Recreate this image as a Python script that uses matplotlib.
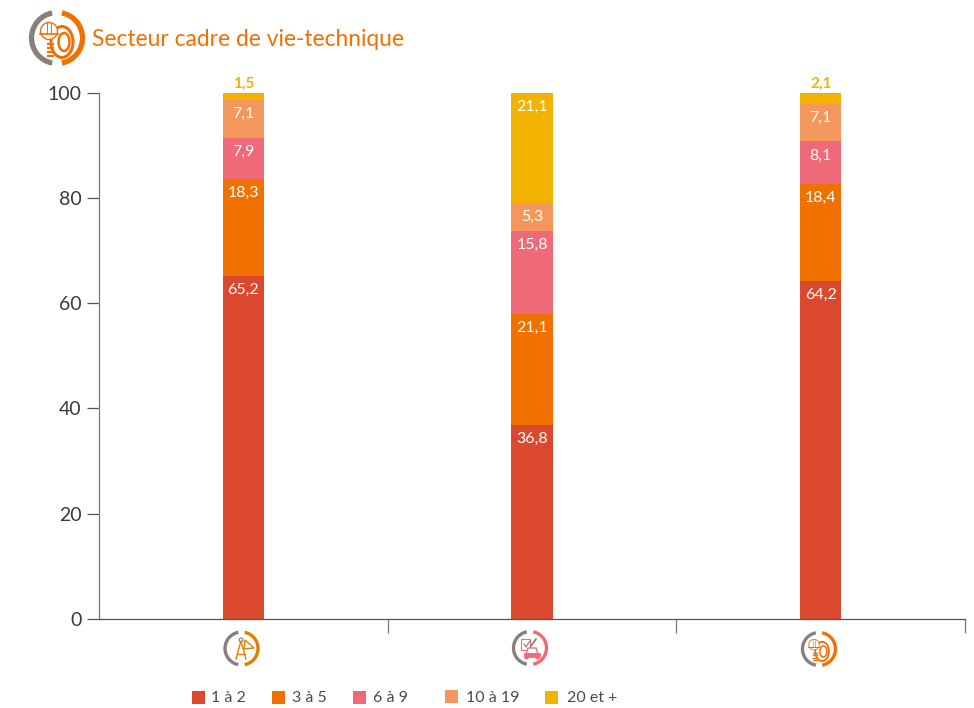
import matplotlib
matplotlib.use('Agg')
import matplotlib.pyplot as plt
from matplotlib.patches import Arc, Circle, Ellipse, Rectangle, Polygon

plt.rcParams['font.family'] = ['Lato', 'DejaVu Sans']

categories = ['architecture', 'vie-technique auto', 'vie-technique']
series_names = ['1 à 2', '3 à 5', '6 à 9', '10 à 19', '20 et +']
colors = ['#DA492D', '#F07000', '#EE6A78', '#F4975C', '#F2B200']
values = [
    [65.2, 36.8, 64.2],
    [18.3, 21.1, 18.4],
    [7.9, 15.8, 8.1],
    [7.1, 5.3, 7.1],
    [1.5, 21.1, 2.1],
]
yticks = [0, 20, 40, 60, 80, 100]

GREY = '#8A7F7A'
W, H = 974, 708

fig = plt.figure(figsize=(W / 100, H / 100), dpi=100)
ax = fig.add_axes([99 / W, 1 - 619 / H, 866 / W, 526.5 / H])

# overlay in pixel coordinates for title, icons and legend
ov = fig.add_axes([0, 0, 1, 1], zorder=5)
ov.set_xlim(0, W)
ov.set_ylim(H, 0)
ov.axis('off')
ov.patch.set_alpha(0)

bottoms = [0, 0, 0]
for i in range(len(values)):
    ax.bar(range(3), values[i], 0.143, bottom=bottoms, color=colors[i], linewidth=0)
    for j in range(3):
        top = bottoms[j] + values[i][j]
        label = str(values[i][j]).replace('.', ',')
        if values[i][j] < 3:
            # too thin, label goes above the bar in the series colour
            ax.annotate(label, (j, 100), xytext=(0, 1), textcoords='offset points',
                        ha='center', va='bottom', color=colors[i], fontsize=11, fontweight='bold')
        else:
            ax.annotate(label, (j, min(top, 100)), xytext=(0, -5), textcoords='offset points',
                        ha='center', va='top', color='white', fontsize=11.5)
        bottoms[j] += values[i][j]

ax.set_xlim(-0.5, 2.5)
ax.set_ylim(0, 100)
ax.set_yticks(yticks)
ax.set_xticks([0.5, 1.5, 2.5])
ax.set_xticklabels([])
ax.tick_params(axis='y', direction='out', length=9, width=0.9, color='#555555',
               labelsize=14, labelcolor='#3A3A3A', pad=3.5)
ax.tick_params(axis='x', direction='out', length=10, width=0.9, color='#777777')
ax.spines['top'].set_visible(False)
ax.spines['right'].set_visible(False)
ax.spines['left'].set_color('#777777')
ax.spines['bottom'].set_color('#555555')
for s in ax.spines.values():
    s.set_linewidth(0.9)


def ring(cx, cy, r, color, lw):
    ov.add_patch(Arc((cx, cy), 2 * r, 2 * r, theta1=101, theta2=259, color=GREY, lw=lw))
    ov.add_patch(Arc((cx, cy), 2 * r, 2 * r, theta1=-79, theta2=79, color=color, lw=lw))


def tyre_helmet(cx, cy, s, color):
    tx, ty = cx + 5 * s, cy + 4 * s
    ov.add_patch(Ellipse((tx, ty), 22 * s, 31 * s, fill=False, ec=color, lw=2.2 * s))
    ov.add_patch(Ellipse((tx + 2 * s, ty), 11 * s, 18 * s, fill=False, ec=color, lw=1.8 * s))
    # tread on the left side of the tyre
    for dy in [2, 6, 10, 14]:
        ov.plot([tx - 14 * s, tx - 9 * s], [ty + dy * s, ty + dy * s], color=color, lw=1.5 * s)
    hx, hy = cx - 8 * s, cy - 7 * s
    ov.add_patch(Circle((hx, hy), 8.5 * s, fc='white', ec=color, lw=1.0 * s, zorder=4))
    ov.plot([hx - 2 * s, hx - 2 * s], [hy - 8 * s, hy + 3 * s], color=color, lw=0.7 * s, zorder=5)
    ov.plot([hx + 2 * s, hx + 2 * s], [hy - 8 * s, hy + 3 * s], color=color, lw=0.7 * s, zorder=5)
    ov.plot([hx - 9 * s, hx + 9 * s], [hy + 3 * s, hy + 3 * s], color=color, lw=1.2 * s, zorder=5)


# title icon
ring(57, 38, 25.5, '#F07000', 3.8)
tyre_helmet(57, 38, 1.0, '#F07000')
ov.text(92, 40, 'Secteur cadre de vie-technique', color='#F07000', fontsize=16.4,
        ha='left', va='center')

# icon under the first bar: compass and set square
c = '#D98300'
ring(241.5, 648.5, 16.5, c, 2.4)
ov.plot([236, 241, 246], [659, 641, 659], color=c, lw=1)
ov.plot([237, 245], [654, 654], color=c, lw=1)
ov.add_patch(Circle((241, 640), 2, fill=False, ec=GREY, lw=0.8))
ov.add_patch(Polygon([[245, 640], [254, 648], [244, 649]], closed=True, fill=False, ec=c, lw=1))

# icon under the second bar: car and checklist
c = '#EE6A78'
ring(530, 648, 16.5, c, 2.4)
ov.add_patch(Rectangle((521, 639), 9, 11, fill=False, ec=c, lw=0.8))
ov.plot([524, 526, 530], [644, 647, 641], color=GREY, lw=0.8)
ov.plot([531, 536], [646, 639], color=GREY, lw=1.2)
ov.add_patch(Polygon([[526, 654], [528, 648], [536, 648], [538, 654]], closed=True, fc='white', ec=c, lw=1))
ov.add_patch(Rectangle((524, 653), 16, 4, fc=c, ec=c, lw=0.5))
ov.add_patch(Rectangle((525, 657), 3, 2, fc=c, ec=c, lw=0.3))
ov.add_patch(Rectangle((536, 657), 3, 2, fc=c, ec=c, lw=0.3))

# icon under the third bar
ring(819, 649, 16.5, '#F07000', 2.4)
tyre_helmet(819, 649, 0.62, '#F07000')

# legend
legend_x = [192, 272, 353, 445, 545]
legend_y = [691, 691, 691, 690, 691]
legend_tx = [211, 292, 373, 466, 567]
for i in range(len(series_names)):
    ov.add_patch(Rectangle((legend_x[i], legend_y[i]), 13, 13, fc=colors[i], ec='none'))
    ov.text(legend_tx[i], 697.5, series_names[i], color='#4A4A4A', fontsize=11.5,
            ha='left', va='center')

fig.savefig('out.png', dpi=100)
